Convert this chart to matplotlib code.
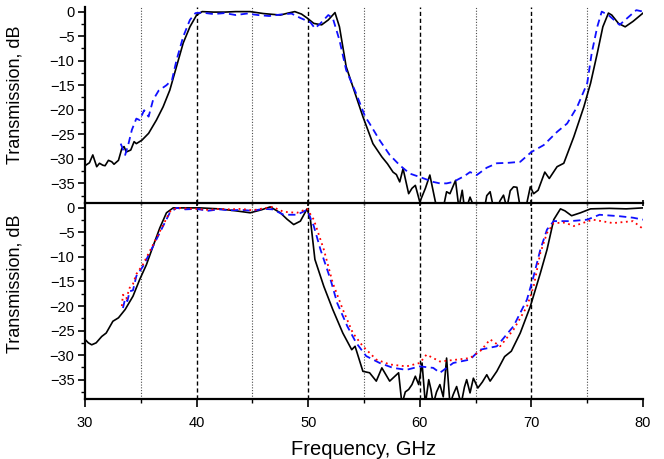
import numpy as np
import matplotlib
matplotlib.use('Agg')
import matplotlib.pyplot as plt
from matplotlib.ticker import MultipleLocator

plt.rcParams['font.family'] = ['Liberation Sans', 'DejaVu Sans']

# upper panel: measured (black) and simulated (blue)
top_black_f = [30.0, 30.4, 30.7, 31.05, 31.3, 31.6, 31.8, 32.1, 32.4, 32.6, 33.0, 33.3, 33.5, 33.7,
               34.1, 34.4, 34.6, 35.1, 35.7, 36.4, 37.0, 37.6, 38.2, 38.8, 39.4, 40.0, 40.5, 41.5,
               42.5, 43.5, 44.8, 46.0, 47.5, 48.2, 48.8, 49.4, 49.9, 50.5, 51.2, 51.8, 52.4, 52.8,
               53.4, 54.0, 54.9, 55.8, 56.6, 57.1, 57.6, 57.9, 58.2, 58.5, 59.0, 59.3, 59.6, 60.0,
               60.5, 60.9, 61.4, 61.8, 62.1, 62.4, 62.7, 63.2, 63.5, 63.8, 64.0, 64.3, 64.5, 64.8,
               65.0, 65.4, 65.8, 66.0, 66.3, 66.6, 66.9, 67.2, 67.5, 67.8, 68.1, 68.4, 68.7, 69.0,
               69.3, 69.6, 69.9, 70.2, 70.6, 71.2, 71.6, 72.3, 72.9, 73.8, 74.7, 75.3, 75.9, 76.4,
               76.9, 77.2, 77.8, 78.4, 79.1, 80.0]
top_black_db = [-31.4, -30.8, -29.2, -31.6, -30.9, -31.3, -31.4, -30.3, -30.6, -31.1, -30.3, -27.9,
                -27.5, -28.6, -28.2, -26.5, -26.9, -26.2, -24.8, -22.1, -19.4, -16.0, -11.2, -6.4,
                -3.1, -0.7, 0.0, -0.1, -0.1, 0.0, 0.0, -0.4, -0.7, -0.3, 0.0, -0.5, -1.3, -2.4,
                -2.7, -1.7, -0.2, -3.1, -11.2, -15.3, -21.4, -26.9, -29.6, -31.0, -32.7, -33.2,
                -34.7, -32.0, -37.1, -36.0, -35.4, -38.8, -36.0, -33.3, -38.8, -40.0, -40.0, -36.7,
                -37.1, -34.4, -40.0, -36.4, -40.0, -39.2, -37.8, -39.5, -40.0, -39.5, -40.0, -37.5,
                -36.7, -40.0, -40.0, -38.5, -37.4, -40.0, -36.5, -35.7, -35.8, -40.0, -39.5, -38.9,
                -35.7, -37.1, -36.4, -32.7, -34.0, -31.6, -30.9, -25.5, -19.4, -14.6, -8.5, -3.1,
                -0.3, -0.7, -2.4, -3.1, -2.0, -0.3]

top_blue_f = [33.2, 33.6, 33.9, 34.2, 34.6, 34.9, 35.3, 35.7, 36.1, 36.6, 37.3, 37.8, 38.2, 38.8,
              39.4, 39.9, 40.5, 41.5, 42.5, 43.5, 44.5, 45.5, 46.5, 47.5, 48.5, 49.3, 50.2, 50.6,
              51.1, 51.8, 52.2, 52.8, 53.4, 54.3, 55.1, 55.5, 56.4, 57.3, 58.2, 59.1, 60.0, 61.2,
              61.8, 62.4, 63.0, 64.0, 64.5, 65.1, 66.0, 66.9, 68.0, 69.0, 70.0, 71.1, 72.3, 73.2,
              74.1, 75.0, 75.4, 75.9, 76.3, 76.9, 77.9, 78.5, 79.4, 80.0]
top_blue_db = [-26.9, -29.2, -26.9, -24.1, -21.8, -22.1, -20.1, -21.4, -18.0, -16.1, -15.0, -13.9,
               -9.9, -5.1, -1.7, -0.3, -0.2, -0.5, -0.3, -0.7, -0.4, -0.7, -0.9, -0.6, -0.4, -1.3,
               -2.2, -3.4, -2.4, -0.7, -1.3, -5.8, -11.9, -16.7, -21.4, -22.8, -26.2, -29.2, -31.3,
               -33.0, -33.7, -34.7, -35.0, -35.0, -34.7, -33.5, -32.7, -33.3, -31.8, -30.9, -30.8,
               -30.6, -28.6, -27.2, -24.5, -22.8, -19.4, -14.6, -8.5, -3.1, 0.0, -0.7, -2.7, -1.5,
               0.3, 0.0]

# lower panel: measured (black), simulated (blue, red)
bot_black_f = [30.0, 30.3, 30.6, 31.0, 31.5, 31.9, 32.5, 33.0, 33.6, 34.3, 34.9, 35.5, 36.1, 36.7,
               37.3, 37.9, 39.0, 40.3, 42.0, 43.5, 44.8, 45.8, 46.6, 47.5, 48.1, 48.7, 49.3, 49.9,
               50.2, 50.6, 51.4, 52.2, 53.1, 53.9, 54.2, 54.9, 55.5, 56.1, 56.6, 57.3, 58.1, 58.4,
               58.7, 59.0, 59.3, 59.6, 59.9, 60.2, 60.5, 60.8, 61.0, 61.2, 61.5, 61.8, 62.1, 62.4,
               62.7, 63.0, 63.3, 63.7, 64.0, 64.2, 64.5, 64.8, 65.2, 65.6, 66.0, 66.3, 66.9, 67.6,
               68.2, 69.0, 69.9, 70.8, 71.4, 72.0, 72.6, 73.0, 73.6, 74.4, 75.3, 77.0, 78.5, 80.0]
bot_black_db = [-26.8, -27.5, -27.9, -27.5, -26.2, -25.5, -23.1, -22.4, -20.7, -18.0, -14.6, -11.6,
                -7.8, -4.1, -1.0, 0.0, 0.0, 0.0, -0.2, -0.6, -1.0, -0.4, 0.2, -1.0, -2.3, -3.4,
                -2.7, -0.2, -2.4, -10.5, -16.0, -20.7, -25.5, -28.9, -28.2, -33.3, -33.6, -35.3,
                -32.6, -35.3, -33.6, -40.0, -37.5, -37.0, -36.0, -34.3, -36.0, -31.6, -40.0, -35.0,
                -37.0, -40.0, -37.5, -36.0, -38.5, -30.6, -40.0, -38.0, -36.4, -40.0, -36.5, -35.0,
                -37.7, -34.7, -36.7, -35.5, -34.0, -35.3, -33.3, -30.3, -29.2, -25.5, -20.1, -13.3,
                -8.5, -2.4, -0.2, -0.6, -1.6, -1.0, -0.2, -0.1, -0.2, 0.0]

bot_blue_f = [33.4, 33.6, 33.8, 34.0, 34.3, 34.6, 35.2, 36.1, 37.0, 37.6, 38.2, 39.0, 40.0, 41.0,
              42.0, 43.0, 44.0, 45.0, 46.0, 46.8, 47.8, 49.0, 49.9, 50.5, 51.1, 52.0, 52.6, 53.5,
              54.3, 55.2, 56.4, 57.6, 58.8, 60.0, 61.2, 61.8, 63.0, 64.5, 65.4, 66.9, 68.4, 69.6,
              70.2, 70.8, 71.4, 72.0, 73.5, 75.0, 76.1, 77.9, 79.1, 80.0]
bot_blue_db = [-20.4, -18.5, -19.0, -17.0, -16.8, -13.9, -11.9, -7.8, -3.7, -1.0, 0.0, -0.3, -0.2,
               -0.6, -0.3, -0.5, -0.4, -0.6, -0.2, -0.3, -1.4, -1.4, -0.4, -3.7, -8.5, -14.6,
               -19.4, -24.1, -27.5, -30.2, -31.6, -32.6, -33.0, -32.3, -32.6, -33.6, -31.6, -30.9,
               -28.9, -28.2, -24.1, -18.7, -13.9, -8.5, -4.4, -2.7, -2.7, -2.4, -1.4, -1.7, -2.0,
               -2.4]

bot_red_f = [33.3, 33.4, 33.7, 34.0, 34.3, 34.6, 35.2, 36.1, 37.0, 37.6, 38.2, 39.0, 40.0, 41.0,
             42.0, 43.0, 44.0, 45.0, 46.0, 46.8, 47.8, 49.0, 49.9, 50.5, 51.4, 52.2, 53.1, 54.0,
             54.9, 56.1, 57.3, 58.8, 60.0, 60.6, 61.8, 63.0, 64.5, 65.5, 66.3, 67.2, 68.4, 69.6,
             70.2, 70.8, 71.4, 72.0, 73.0, 73.8, 75.5, 77.3, 79.1, 79.9]
bot_red_db = [-20.0, -17.7, -18.5, -16.3, -15.5, -13.5, -11.5, -7.5, -3.5, -0.8, 0.0, -0.1, -0.2,
              -0.4, -0.2, -0.3, -0.2, -0.5, -0.1, 0.2, -0.8, -1.0, -0.2, -2.4, -8.5, -15.3, -20.7,
              -25.5, -28.2, -30.9, -31.9, -32.3, -31.6, -29.9, -31.3, -31.0, -30.6, -29.0, -26.8,
              -28.2, -24.8, -20.1, -16.0, -9.2, -5.1, -3.1, -3.0, -3.7, -2.4, -3.1, -2.7, -4.1]

dotted_f = [35, 45, 55, 65, 75]
dashed_f = [40, 50, 60, 70]

fig = plt.figure(figsize=(6.64, 4.59), dpi=100)
ax1 = fig.add_axes([0.128, 0.5577, 0.8404, 0.4277])
ax2 = fig.add_axes([0.128, 0.1301, 0.8404, 0.4277])

for ax in (ax1, ax2):
    ax.patch.set_visible(False)
    for f in dotted_f:
        ax.axvline(f, color='0.3', lw=0.8, ls=(0, (1, 1.5)), zorder=1)
    for f in dashed_f:
        ax.axvline(f, color='black', lw=1.0, ls=(0, (3, 2)), zorder=1)
    ax.set_xlim(30, 80)
    ax.set_ylim(-39, 1)
    ax.yaxis.set_major_locator(MultipleLocator(5))
    ax.yaxis.set_minor_locator(MultipleLocator(2.5))
    ax.xaxis.set_major_locator(MultipleLocator(10))
    ax.xaxis.set_minor_locator(MultipleLocator(5))
    ax.spines['top'].set_visible(False)
    ax.spines['right'].set_visible(False)
    for s in ('left', 'bottom'):
        ax.spines[s].set_linewidth(1.6)
    ax.tick_params(which='major', direction='out', length=5, width=1.2, labelsize=10.5, pad=2.5)
    ax.tick_params(which='minor', direction='out', length=3, width=1.0)
    ax.set_ylabel('Transmission, dB', fontsize=13)

ax1.plot(top_black_f, top_black_db, color='black', lw=1.2, zorder=3)
ax1.plot(top_blue_f, top_blue_db, color='#1010ff', lw=1.3, ls=(0, (4, 2.5)), zorder=4)
ax1.tick_params(axis='x', which='both', direction='inout', labelbottom=False)
ax1.yaxis.set_label_coords(-0.11, 0.55)
ax1.spines['bottom'].set_zorder(6)

ax2.plot(bot_black_f, bot_black_db, color='black', lw=1.2, zorder=3)
ax2.plot(bot_blue_f, bot_blue_db, color='#1010ff', lw=1.3, ls=(0, (4, 2.5)), zorder=4)
ax2.plot(bot_red_f, bot_red_db, color='red', lw=1.3, ls=(0, (1, 2)), zorder=5)
ax2.tick_params(axis='x', which='major', length=6, pad=6)
ax2.yaxis.set_label_coords(-0.11, 0.59)
ax2.set_xlabel('Frequency, GHz', fontsize=14.5, labelpad=7)

fig.savefig('out.png', dpi=100)
